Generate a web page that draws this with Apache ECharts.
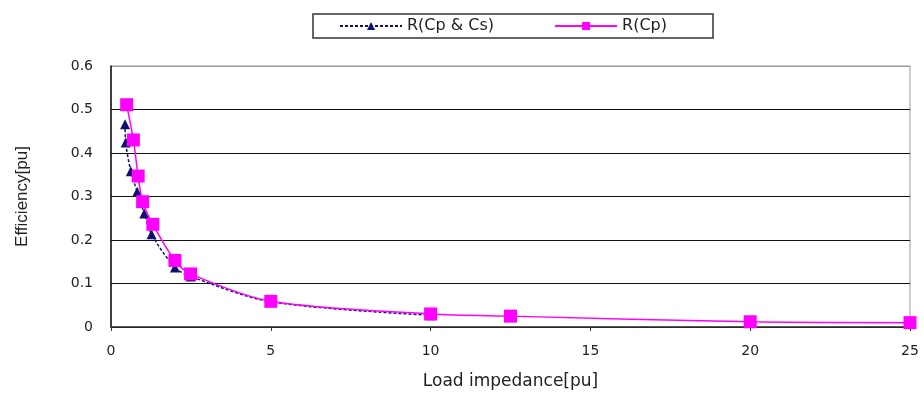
<!DOCTYPE html>
<html>
<head>
<meta charset="utf-8">
<script src="https://cdn.jsdelivr.net/npm/echarts@6/dist/echarts.min.js"></script>
<style>
  html, body { margin: 0; padding: 0; background: #fff; }
  #chart { width: 924px; height: 396px; }
</style>
</head>
<body>
<div id="chart"></div>
<script>
// R(Cp & Cs): load impedance [pu] vs efficiency [pu]
const cpCsX = [0.44, 0.46, 0.62, 0.82, 1.04, 1.27, 2.0, 2.5, 5, 10];
const cpCsY = [0.466, 0.424, 0.358, 0.311, 0.261, 0.213, 0.137, 0.116, 0.058, 0.027];

// R(Cp)
const cpX = [0.49, 0.7, 0.85, 0.99, 1.31, 2.0, 2.49, 5, 10, 12.5, 20, 25];
const cpY = [0.511, 0.43, 0.347, 0.288, 0.236, 0.153, 0.122, 0.059, 0.030, 0.025, 0.012, 0.010];

const yTicks = [0, 0.1, 0.2, 0.3, 0.4, 0.5, 0.6];

function pairs(xs, ys) {
    return xs.map((x, i) => [x, ys[i]]);
}

const chart = echarts.init(document.getElementById('chart'));
const font = 'DejaVu Sans';

const option = {
    animation: false,
    backgroundColor: '#fff',
    legend: {
        top: 14,
        left: 313,
        itemWidth: 62,
        itemHeight: 10,
        itemGap: 60,
        padding: [4, 46, 4, 26],
        borderColor: '#333',
        borderWidth: 1.5,
        textStyle: { fontFamily: font, fontSize: 16, color: '#222' },
        data: ['R(Cp & Cs)', 'R(Cp)']
    },
    grid: {
        left: 111,
        right: 14,
        top: 66,
        bottom: 69,
        show: true,
        borderColor: '#999',
        borderWidth: 1
    },
    xAxis: {
        type: 'value',
        min: 0,
        max: 25,
        interval: 5,
        name: 'Load impedance[pu]',
        nameLocation: 'middle',
        nameGap: 46,
        nameTextStyle: { fontFamily: font, fontSize: 17, color: '#222' },
        axisLine: { lineStyle: { color: '#333', width: 1.5 } },
        axisTick: { show: true, length: 4, lineStyle: { color: '#333' } },
        axisLabel: { fontFamily: font, fontSize: 14, color: '#222', margin: 17 },
        splitLine: { show: false }
    },
    yAxis: {
        type: 'value',
        min: 0,
        max: 0.6,
        interval: 0.1,
        name: 'Efficiency[pu]',
        nameLocation: 'middle',
        nameGap: 80,
        nameRotate: 90,
        nameTextStyle: { fontFamily: 'Liberation Sans', fontSize: 17, color: '#222' },
        axisLine: { show: true, lineStyle: { color: '#111', width: 1.5 } },
        axisTick: { show: false },
        axisLabel: {
            fontFamily: font,
            fontSize: 14,
            color: '#222',
            margin: 18,
            formatter: v => {
                const t = yTicks.find(k => Math.abs(k - v) < 1e-9);
                return t === undefined ? '' : String(t);
            }
        },
        splitLine: {
            show: true,
            lineStyle: { color: ['#111', '#111', '#111', '#111', '#111', '#111', '#999'], width: 1.2 }
        }
    },
    series: [
        {
            name: 'R(Cp & Cs)',
            type: 'line',
            data: pairs(cpCsX, cpCsY),
            smooth: 0.3,
            symbol: 'triangle',
            symbolSize: 10,
            itemStyle: { color: '#10106e' },
            lineStyle: { color: '#10106e', width: 1.5, type: [3, 2] },
            z: 2
        },
        {
            name: 'R(Cp)',
            type: 'line',
            data: pairs(cpX, cpY),
            smooth: 0.3,
            symbol: 'rect',
            symbolSize: 13,
            itemStyle: { color: '#ff00ff' },
            lineStyle: { color: '#ff00ff', width: 1.5 },
            z: 3
        }
    ]
};

chart.setOption(option);
</script>
</body>
</html>
